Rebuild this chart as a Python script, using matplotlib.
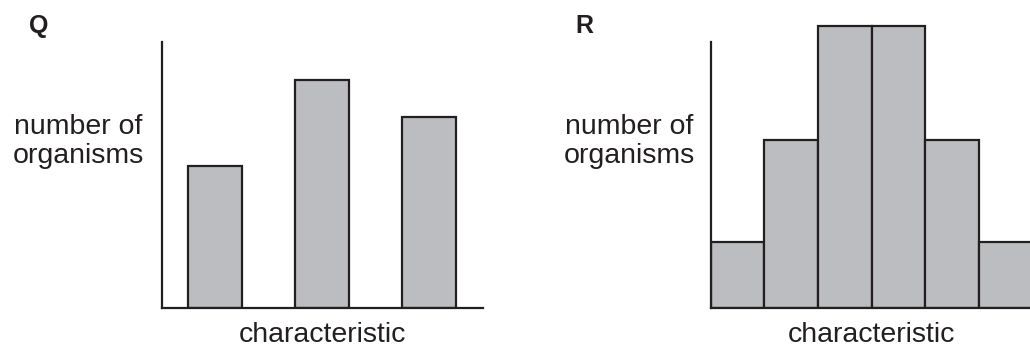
import numpy as np
import matplotlib
matplotlib.use("Agg")
import matplotlib.pyplot as plt

# data: bar heights (arbitrary units)
q_values = [142, 228, 191]
r_values = [66, 168, 282, 282, 168, 66]
panel_labels = ["Q", "R"]
ylabel_text = "number of\norganisms"
xlabel_text = "characteristic"

fill = "#bcbdc0"
ink = "#231f20"

plt.rcParams['font.family'] = ['Liberation Sans', 'DejaVu Sans']

W, H = 1030, 349
fig = plt.figure(figsize=(W / 100, H / 100), dpi=100)

def px_axes(left, bottom_y, width, height):
    # position given in pixels, y measured from the top of the picture
    return fig.add_axes([left / W, (H - bottom_y) / H, width / W, height / H])

def style(ax, top):
    for s in ["top", "right"]:
        ax.spines[s].set_visible(False)
    for s in ["left", "bottom"]:
        ax.spines[s].set_linewidth(1.6)
        ax.spines[s].set_color(ink)
    ax.spines["left"].set_bounds(0, top)
    ax.set_xticks([])
    ax.set_yticks([])
    ax.set_ylim(0, 300)
    ax.patch.set_visible(False)

# Q panel: separate bars
axq = px_axes(161.5, 307.5, 321.2, 300)
axq.bar(np.arange(len(q_values)), q_values, width=0.5, color=fill,
        edgecolor=ink, linewidth=1.6)
axq.set_xlim(-0.5, 2.5)
style(axq, 265.5)

# R panel: contiguous histogram, runs off the right edge
axr = px_axes(710.7, 307.5, 330, 300)
axr.bar(np.arange(len(r_values)), r_values, width=1.0, color=fill,
        edgecolor=ink, linewidth=1.6)
axr.set_xlim(-0.5, -0.5 + 330 / 53.6)
style(axr, 265.5)

# labels
for x, lab in zip([38.5, 584.5], panel_labels):
    fig.text(x / W, 1 - 33 / H, lab, ha="center", va="baseline",
             fontsize=18, fontweight="bold", color=ink)

for x in [78.5, 629]:
    fig.text(x / W, 1 - 163 / H, ylabel_text, ha="center", va="baseline",
             fontsize=20.5, color=ink, linespacing=1.13, multialignment="center")

for x in [322, 871]:
    fig.text(x / W, 1 - 341.7 / H, xlabel_text, ha="center", va="baseline",
             fontsize=20.5, color=ink)

fig.savefig("out.png", dpi=100)
